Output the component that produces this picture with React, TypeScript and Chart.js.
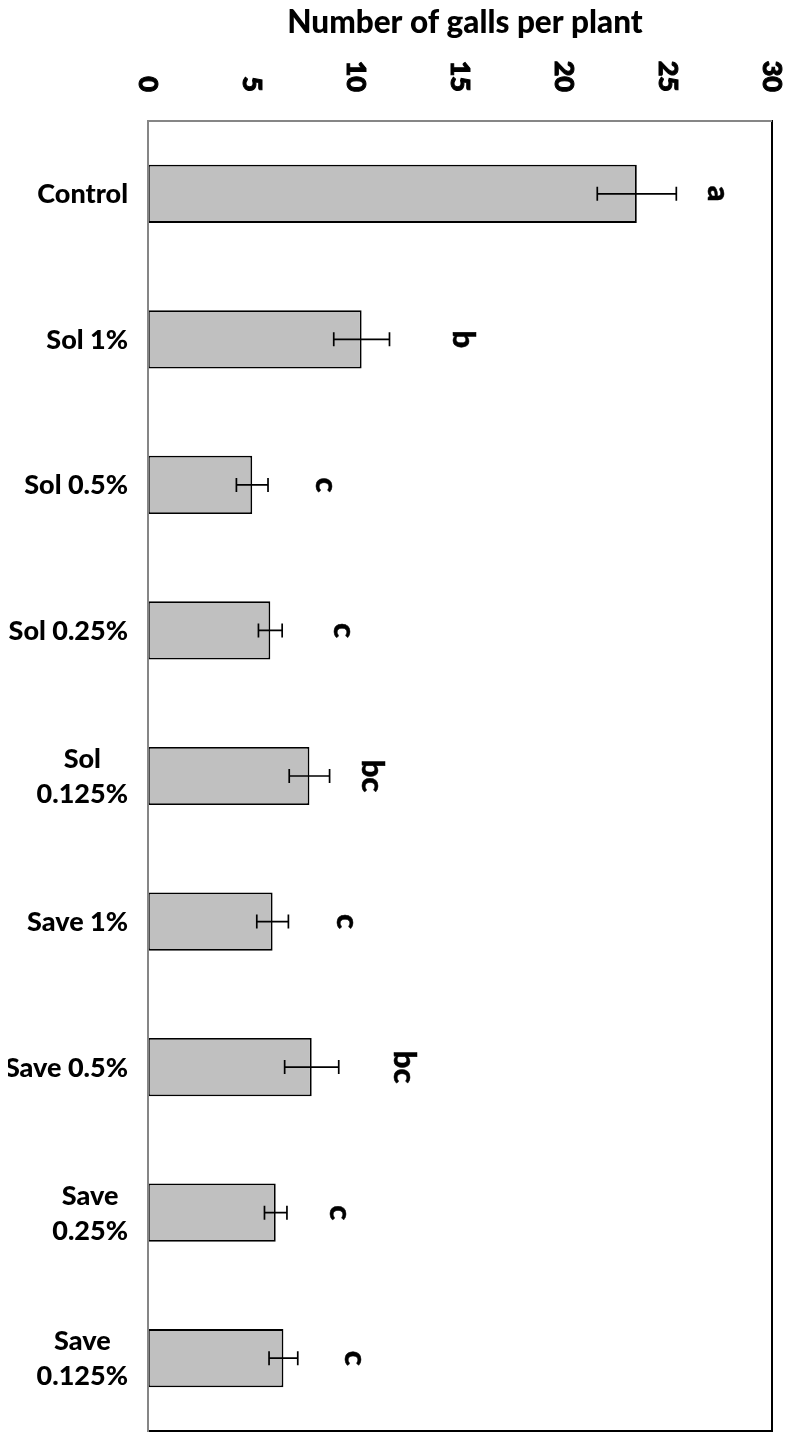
import React, { useEffect, useRef } from "react";
import { Chart, registerables } from "chart.js";

Chart.register(...registerables);

const categories: (string | string[])[] = [
  "Control",
  "Sol 1%",
  "Sol 0.5%",
  "Sol 0.25%",
  ["Sol", "0.125%"],
  "Save 1%",
  "Save 0.5%",
  ["Save", "0.25%"],
  ["Save", "0.125%"],
];
const means = [23.5, 10.27, 5.01, 5.88, 7.76, 5.99, 7.87, 6.14, 6.51];
const errors = [1.9, 1.34, 0.76, 0.57, 0.97, 0.76, 1.3, 0.54, 0.69];
const letters = ["a", "b", "c", "c", "bc", "c", "bc", "c", "c"];
const letterPositions = [27.31, 15.24, 8.46, 9.33, 10.85, 9.46, 12.37, 9.12, 9.85];
const xTicks = [0, 5, 10, 15, 20, 25, 30];
const axisTitle = "Number of galls per plant";

const FAMILY = "Lato, 'Open Sans', sans-serif";
const FONT = `900 27px ${FAMILY}`;
const LETTER_FONT = `900 31px ${FAMILY}`;
const TITLE_FONT = `900 31.5px ${FAMILY}`;

const overlay = {
  id: "overlay",
  afterDatasetsDraw(chart: any) {
    const ctx: CanvasRenderingContext2D = chart.ctx;
    const xs = chart.scales.x;
    const ys = chart.scales.y;
    const ca = chart.chartArea;
    ctx.save();

    // error bars
    ctx.strokeStyle = "#000";
    ctx.lineWidth = 1.7;
    means.forEach((m, i) => {
      const y = ys.getPixelForValue(i);
      const x1 = xs.getPixelForValue(m - errors[i]);
      const x2 = xs.getPixelForValue(m + errors[i]);
      ctx.beginPath();
      ctx.moveTo(x1, y);
      ctx.lineTo(x2, y);
      ctx.moveTo(x1, y - 7);
      ctx.lineTo(x1, y + 7);
      ctx.moveTo(x2, y - 7);
      ctx.lineTo(x2, y + 7);
      ctx.stroke();
    });

    // plot border
    ctx.strokeStyle = "#000";
    ctx.lineWidth = 2;
    ctx.strokeRect(ca.left, ca.top, ca.right - ca.left, ca.bottom - ca.top);
    ctx.strokeStyle = "#868686";
    ctx.lineWidth = 2;
    ctx.beginPath();
    ctx.moveTo(ca.left, ca.bottom + 1);
    ctx.lineTo(ca.left, ca.top);
    ctx.lineTo(ca.right, ca.top);
    ctx.stroke();

    ctx.fillStyle = "#000";
    ctx.strokeStyle = "#000";

    // rotated text helper (clockwise, centered on glyph bbox across)
    const rotText = (txt: string, x: number, y: number, align: CanvasTextAlign, strokeW: number) => {
      ctx.save();
      ctx.translate(x, y);
      ctx.rotate(Math.PI / 2);
      ctx.textAlign = align;
      ctx.textBaseline = "alphabetic";
      const m = ctx.measureText(txt);
      const off = (m.actualBoundingBoxAscent - m.actualBoundingBoxDescent) / 2;
      ctx.fillText(txt, 0, off);
      if (strokeW > 0) {
        ctx.lineWidth = strokeW;
        ctx.strokeText(txt, 0, off);
      }
      ctx.restore();
    };

    // significance letters
    ctx.font = LETTER_FONT;
    letters.forEach((l, i) => {
      rotText(l, xs.getPixelForValue(letterPositions[i]), ys.getPixelForValue(i), "center", 0.5);
    });

    // x tick labels
    ctx.font = FONT;
    xTicks.forEach((t) => {
      rotText(String(t), xs.getPixelForValue(t), ca.top - 29, "right", 1);
    });

    // category labels
    ctx.font = FONT;
    ctx.textBaseline = "alphabetic";
    ctx.textAlign = "center";
    const capH = ctx.measureText("H").actualBoundingBoxAscent;
    categories.forEach((c, i) => {
      const lines = Array.isArray(c) ? c : [c];
      const maxW = Math.max(...lines.map((s) => ctx.measureText(s).width));
      const cx = ca.left - 20 - maxW / 2;
      const cy = ys.getPixelForValue(i);
      const lh = 35;
      lines.forEach((s, k) => {
        const ly = cy - ((lines.length - 1) * lh) / 2 + k * lh;
        ctx.fillText(s, cx, ly + capH / 2);
      });
    });

    // axis title
    ctx.font = TITLE_FONT;
    ctx.textAlign = "center";
    ctx.fillText(axisTitle, (ca.left + ca.right) / 2 + 5, 25);

    ctx.restore();
  },
};

export default function App() {
  const ref = useRef<HTMLCanvasElement>(null);
  useEffect(() => {
    let chart: Chart | null = null;
    let cancelled = false;
    const make = () => {
      if (cancelled || !ref.current) return;
      chart = new Chart(ref.current, {
        type: "bar",
        data: {
          labels: categories as any,
          datasets: [
            {
              data: means,
              backgroundColor: "#C0C0C0",
              borderColor: "#000",
              borderWidth: 1.8,
              borderSkipped: false,
              barPercentage: 0.4,
              categoryPercentage: 1,
            },
          ],
        },
        options: {
          indexAxis: "y",
          responsive: false,
          animation: false,
          layout: { padding: { left: 0, right: 14, top: 0, bottom: 3 } },
          plugins: { legend: { display: false }, tooltip: { enabled: false }, title: { display: false } },
          scales: {
            x: {
              position: "top",
              min: 0,
              max: 30,
              ticks: { display: false, stepSize: 5 },
              grid: { display: false },
              border: { display: false },
              afterFit: (s: any) => {
                s.height = 113;
              },
            },
            y: {
              ticks: { display: false },
              grid: { display: false },
              border: { display: false },
              afterFit: (s: any) => {
                s.width = 140;
              },
            },
          },
        },
        plugins: [overlay],
      });
    };
    const fonts: any = (document as any).fonts;
    if (fonts && fonts.load) {
      Promise.all([fonts.load(FONT), fonts.load(LETTER_FONT), fonts.load(TITLE_FONT)]).then(make, make);
    } else {
      make();
    }
    return () => {
      cancelled = true;
      if (chart) chart.destroy();
    };
  }, []);
  return (
    <div style={{ width: 778, height: 1426 }}>
      <canvas ref={ref} width={778} height={1426} style={{ display: "block", width: 778, height: 1426 }} />
    </div>
  );
}
